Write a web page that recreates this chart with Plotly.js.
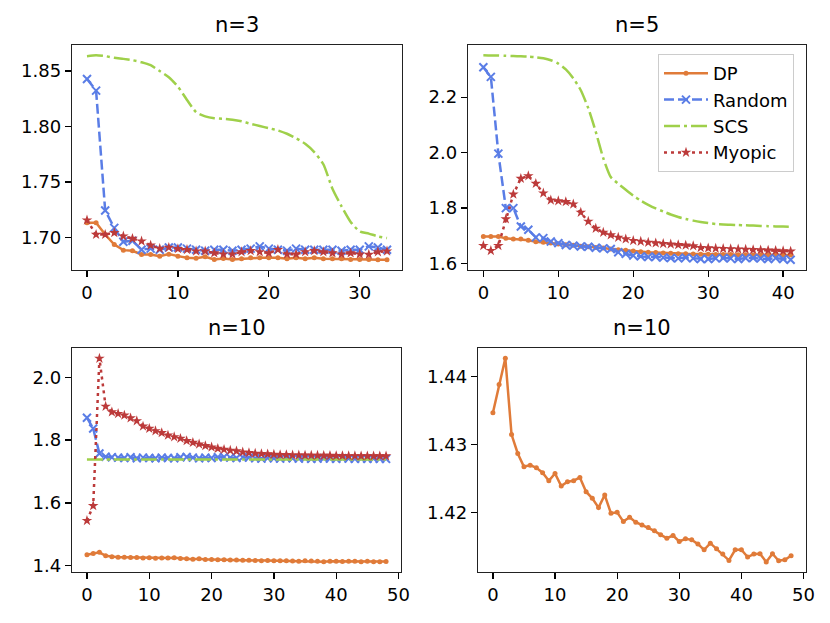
<!DOCTYPE html>
<html>
<head>
<meta charset="utf-8">
<script src="https://cdn.plot.ly/plotly-3.0.1.min.js"></script>
<style>
  body { margin: 0; background: #fff; }
  #chart { width: 830px; height: 623px; }
</style>
</head>
<body>
<div id="chart"></div>
<script>
// n=3
let dp3 = [1.7132, 1.7132, 1.7027, 1.6937, 1.6886, 1.6880, 1.6847, 1.6847, 1.6832, 1.6850,
    1.6832, 1.6817, 1.6814, 1.6826, 1.6802, 1.6811, 1.6802, 1.6808, 1.6817, 1.6817,
    1.6817, 1.6817, 1.6808, 1.6817, 1.6808, 1.6817, 1.6808, 1.6808, 1.6808, 1.6802,
    1.6802, 1.6802, 1.6799, 1.6799]
let random3 = [1.8429, 1.8324, 1.7243, 1.7087, 1.6961, 1.6970, 1.6890, 1.6900, 1.6890, 1.6910,
    1.6910, 1.6900, 1.6890, 1.6880, 1.6890, 1.6890, 1.6880, 1.6890, 1.6900, 1.6920,
    1.6900, 1.6890, 1.6880, 1.6900, 1.6890, 1.6890, 1.6890, 1.6890, 1.6880, 1.6890,
    1.6890, 1.6920, 1.6910, 1.6890]
let scs3 = [1.8634, 1.8643, 1.8635, 1.8620, 1.8610, 1.8598, 1.8580, 1.8553, 1.8500, 1.8445,
    1.8360, 1.8240, 1.8130, 1.8092, 1.8075, 1.8070, 1.8062, 1.8047, 1.8025, 1.8005,
    1.7985, 1.7965, 1.7935, 1.7895, 1.7845, 1.7770, 1.7660, 1.7440, 1.7280, 1.7140,
    1.7055, 1.7035, 1.7010, 1.6995]
let myopic3 = [1.7156, 1.7027, 1.7027, 1.7042, 1.7012, 1.6990, 1.6967, 1.6930, 1.6900, 1.6910,
    1.6898, 1.6890, 1.6877, 1.6877, 1.6860, 1.6850, 1.6850, 1.6870, 1.6880, 1.6870,
    1.6860, 1.6890, 1.6850, 1.6850, 1.6870, 1.6880, 1.6870, 1.6860, 1.6850, 1.6860,
    1.6850, 1.6847, 1.6870, 1.6877]

// n=5
let dp5 = [1.698, 1.698, 1.698, 1.691, 1.6886, 1.6886, 1.684, 1.679, 1.6767, 1.674,
    1.6707, 1.668, 1.666, 1.663, 1.661, 1.658, 1.656, 1.6527, 1.650, 1.648,
    1.6455, 1.643, 1.641, 1.640, 1.6383, 1.637, 1.636, 1.6355, 1.635, 1.634,
    1.6335, 1.633, 1.633, 1.6325, 1.632, 1.632, 1.6315, 1.6315, 1.631, 1.631,
    1.631, 1.631]
let random5 = [2.3078, 2.273, 1.9964, 1.800, 1.800, 1.734, 1.722, 1.6946, 1.692, 1.680,
    1.674, 1.667, 1.665, 1.662, 1.661, 1.6575, 1.655, 1.6527, 1.641, 1.635,
    1.629, 1.626, 1.624, 1.625, 1.6216, 1.620, 1.619, 1.6216, 1.619, 1.6168,
    1.6168, 1.619, 1.620, 1.619, 1.6168, 1.620, 1.620, 1.619, 1.6168, 1.620,
    1.6168, 1.614]
let scs5 = [2.351, 2.350, 2.350, 2.349, 2.348, 2.347, 2.346, 2.344, 2.340, 2.333,
    2.321, 2.300, 2.268, 2.225, 2.160, 2.075, 1.980, 1.912, 1.888, 1.866,
    1.845, 1.827, 1.812, 1.799, 1.788, 1.777, 1.768, 1.761, 1.755, 1.750,
    1.746, 1.743, 1.741, 1.740, 1.739, 1.738, 1.737, 1.736, 1.735, 1.734,
    1.7335, 1.733]
let myopic5 = [1.6647, 1.6467, 1.6647, 1.7605, 1.850, 1.9066, 1.916, 1.8886, 1.854, 1.8287,
    1.826, 1.8228, 1.8144, 1.7845, 1.752, 1.727, 1.7126, 1.703, 1.6946, 1.6886,
    1.6826, 1.680, 1.6766, 1.674, 1.672, 1.670, 1.668, 1.666, 1.664, 1.6575,
    1.656, 1.655, 1.654, 1.653, 1.652, 1.651, 1.650, 1.649, 1.648, 1.647,
    1.646, 1.6443]

// n=10
let dp10 = [1.43467, 1.43883, 1.44269, 1.43144, 1.42866, 1.42670, 1.42694, 1.42655, 1.42582, 1.42465,
    1.42572, 1.42386, 1.42450, 1.42465, 1.42513, 1.42303, 1.42205, 1.42068, 1.42254, 1.41985,
    1.42000, 1.41863, 1.41927, 1.41853, 1.41814, 1.41775, 1.41726, 1.41667, 1.41619, 1.41658,
    1.41570, 1.41609, 1.41594, 1.41531, 1.41447, 1.41545, 1.41462, 1.41384, 1.41291, 1.41447,
    1.41447, 1.41340, 1.41384, 1.41389, 1.41267, 1.41389, 1.41286, 1.41301, 1.41360]
let random10 = [1.871, 1.8365, 1.757, 1.747, 1.745, 1.744, 1.743, 1.745, 1.742, 1.744,
    1.743, 1.742, 1.744, 1.743, 1.742, 1.745, 1.746, 1.744, 1.742, 1.744,
    1.743, 1.745, 1.746, 1.744, 1.743, 1.745, 1.744, 1.742, 1.741, 1.743,
    1.742, 1.741, 1.743, 1.742, 1.741, 1.742, 1.740, 1.741, 1.742, 1.741,
    1.740, 1.742, 1.741, 1.740, 1.741, 1.740, 1.741, 1.740, 1.740]
let scs10 = [1.7384, 1.7384, 1.7384, 1.7384, 1.7384, 1.7384, 1.7384, 1.7384, 1.7384, 1.7384,
    1.7384, 1.7384, 1.7384, 1.7384, 1.7384, 1.7384, 1.7384, 1.7384, 1.7384, 1.7384,
    1.7384, 1.7384, 1.7384, 1.7384, 1.7384, 1.7384, 1.7384, 1.7384, 1.7384, 1.7384,
    1.7384, 1.7384, 1.7384, 1.7384, 1.7384, 1.7384, 1.7384, 1.7384, 1.7384, 1.7384,
    1.7384, 1.7384, 1.7384, 1.7384, 1.7384, 1.7384, 1.7384, 1.7384, 1.7384]
let myopic10 = [1.5434, 1.5908, 2.060, 1.907, 1.889, 1.884, 1.8787, 1.870, 1.861, 1.844,
    1.8365, 1.829, 1.823, 1.815, 1.810, 1.805, 1.7975, 1.792, 1.787, 1.7817,
    1.7775, 1.773, 1.770, 1.767, 1.765, 1.7616, 1.7595, 1.7574, 1.7563, 1.7553,
    1.7543, 1.7532, 1.7532, 1.752, 1.752, 1.7515, 1.751, 1.751, 1.7505, 1.7505,
    1.750, 1.750, 1.7495, 1.7495, 1.749, 1.749, 1.749, 1.749, 1.749]

let titles = ['n=3', 'n=5', 'n=10', 'n=10']

let colors = {
    DP: '#e07b39',
    Random: '#5a7de6',
    SCS: '#9fd04a',
    Myopic: '#bc3a3a'
}

function idx(arr) {
    return arr.map((v, i) => i)
}

function dpTrace(y, ax, legend) {
    return {
        x: idx(y), y: y, xaxis: 'x' + ax, yaxis: 'y' + ax,
        name: 'DP', mode: 'lines+markers', showlegend: legend, legendgroup: 'DP',
        line: { color: colors.DP, width: 2.5 },
        marker: { color: colors.DP, size: 5, symbol: 'circle' }
    }
}
function randomTrace(y, ax, legend) {
    return {
        x: idx(y), y: y, xaxis: 'x' + ax, yaxis: 'y' + ax,
        name: 'Random', mode: 'lines+markers', showlegend: legend, legendgroup: 'Random',
        line: { color: colors.Random, width: 2.5, dash: '10px,4px' },
        marker: { color: colors.Random, size: 8, symbol: 'x-thin', line: { color: colors.Random, width: 2 } }
    }
}
function scsTrace(y, ax, legend) {
    return {
        x: idx(y), y: y, xaxis: 'x' + ax, yaxis: 'y' + ax,
        name: 'SCS', mode: 'lines', showlegend: legend, legendgroup: 'SCS',
        line: { color: colors.SCS, width: 2.5, dash: '16px,4px,3px,4px', shape: 'spline', smoothing: 0.6 }
    }
}
function myopicTrace(y, ax, legend) {
    return {
        x: idx(y), y: y, xaxis: 'x' + ax, yaxis: 'y' + ax,
        name: 'Myopic', mode: 'lines+markers', showlegend: legend, legendgroup: 'Myopic',
        line: { color: colors.Myopic, width: 2.5, dash: '3px,4px' },
        marker: { color: colors.Myopic, size: 8, symbol: 'star' }
    }
}

let traces = [
    dpTrace(dp3, '', false), randomTrace(random3, '', false), scsTrace(scs3, '', false), myopicTrace(myopic3, '', false),
    dpTrace(dp5, '2', true), randomTrace(random5, '2', true), scsTrace(scs5, '2', true), myopicTrace(myopic5, '2', true),
    dpTrace(dp10, '3', false), randomTrace(random10, '3', false), scsTrace(scs10, '3', false), myopicTrace(myopic10, '3', false),
    dpTrace(dp10, '4', false)
]

let tickFont = { family: 'DejaVu Sans', size: 18, color: '#000' }

function xAxis(domain, anchor, range) {
    return {
        domain: domain, anchor: anchor, range: range,
        dtick: 10, tick0: 0, ticks: 'outside', ticklen: 6, tickwidth: 1.3, tickcolor: '#000',
        showline: true, mirror: true, linecolor: '#222', linewidth: 1.3,
        showgrid: false, zeroline: false, tickfont: tickFont
    }
}
function yAxis(domain, anchor, range, dtick, fmt) {
    return {
        domain: domain, anchor: anchor, range: range,
        dtick: dtick, tick0: 0, tickformat: fmt, ticks: 'outside', ticklen: 6, tickwidth: 1.3, tickcolor: '#000',
        showline: true, mirror: true, linecolor: '#222', linewidth: 1.3,
        showgrid: false, zeroline: false, tickfont: tickFont
    }
}

let topRow = [1 - 270 / 623, 1 - 45 / 623]
let bottomRow = [1 - 572 / 623, 1 - 348 / 623]
let titleX = [(72 + 402) / 2 / 830, (468 + 806) / 2 / 830, (72 + 401) / 2 / 830, (478 + 806) / 2 / 830]

let annotations = titles.map((t, i) => ({
    text: t, showarrow: false,
    xref: 'paper', yref: 'paper',
    x: titleX[i],
    y: i < 2 ? 1 - 39 / 623 : 1 - 342 / 623,
    xanchor: 'center', yanchor: 'bottom',
    font: { family: 'DejaVu Sans', size: 21, color: '#000' }
}))

let layout = {
    width: 830, height: 623,
    margin: { l: 0, r: 0, t: 0, b: 0 },
    paper_bgcolor: '#fff', plot_bgcolor: '#fff',
    showlegend: true,
    legend: {
        x: 658 / 830, y: 1 - 54 / 623, xanchor: 'left', yanchor: 'top',
        bgcolor: 'rgba(255,255,255,0.8)', bordercolor: '#cccccc', borderwidth: 1,
        font: { family: 'DejaVu Sans', size: 18, color: '#000' },
        itemwidth: 44, tracegroupgap: 0
    },
    xaxis: xAxis([72 / 830, 402 / 830], 'y', [-1.65, 34.65]),
    yaxis: yAxis(topRow, 'x', [1.6707, 1.8735], 0.05, '.2f'),
    xaxis2: xAxis([468 / 830, 806 / 830], 'y2', [-2.05, 43.05]),
    yaxis2: yAxis(topRow, 'x2', [1.577, 2.388], 0.2, '.1f'),
    xaxis3: xAxis([72 / 830, 401 / 830], 'y3', [-2.4, 50.4]),
    yaxis3: yAxis(bottomRow, 'x3', [1.380, 2.093], 0.2, '.1f'),
    xaxis4: xAxis([478 / 830, 806 / 830], 'y4', [-2.4, 50.4]),
    yaxis4: yAxis(bottomRow, 'x4', [1.4112, 1.4442], 0.01, '.2f'),
    annotations: annotations
}

Plotly.newPlot('chart', traces, layout, { staticPlot: true })
</script>
</body>
</html>
